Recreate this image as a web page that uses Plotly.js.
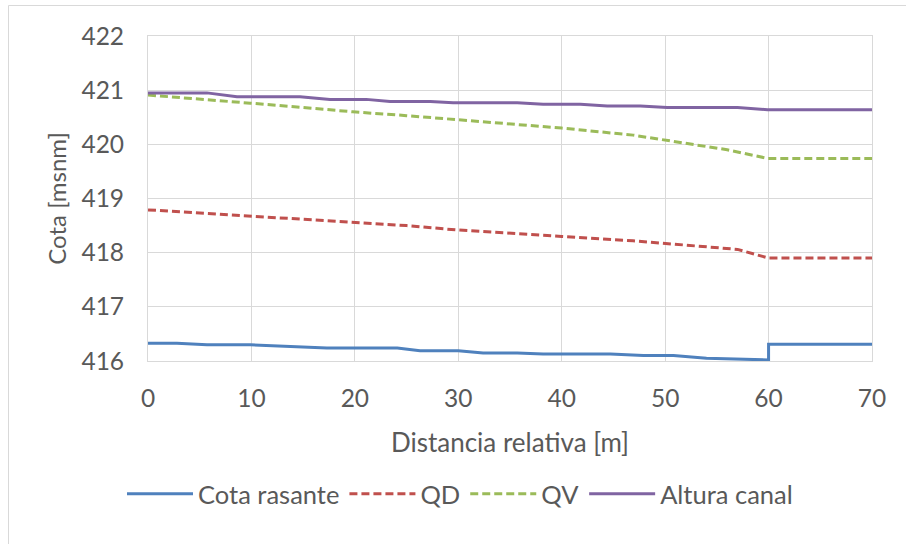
<!DOCTYPE html>
<html>
<head>
<meta charset="utf-8">
<script src="https://cdn.plot.ly/plotly-3.0.1.min.js"></script>
<style>html,body{margin:0;padding:0;background:#fff;}#chart{width:906px;height:544px;}</style>
</head>
<body>
<div id="chart"></div>
<script>
// Cota rasante
var xRasante = [0, 2.8, 5.7, 9.9, 17.3, 24.1, 26.3, 30.0, 32.4, 35.7, 38.2, 44.7, 47.9, 50.8, 54.0, 60.0, 60.0, 70];
var yRasante = [416.33, 416.33, 416.30, 416.30, 416.24, 416.24, 416.19, 416.19, 416.15, 416.15, 416.13, 416.13, 416.10, 416.10, 416.05, 416.02, 416.31, 416.31];
// QD
var xQD = [0, 9.9, 19.9, 25, 29.8, 36, 40, 46.9, 50, 57, 60, 70];
var yQD = [418.79, 418.68, 418.56, 418.50, 418.42, 418.34, 418.30, 418.22, 418.17, 418.06, 417.90, 417.90];
// QV
var xQV = [0, 5, 9.9, 15, 19.8, 25, 29.8, 35.9, 40, 46.9, 50, 56, 59.9, 70];
var yQV = [420.91, 420.84, 420.76, 420.68, 420.60, 420.53, 420.46, 420.37, 420.30, 420.17, 420.08, 419.90, 419.74, 419.74];
// Altura canal
var xCanal = [0, 5.7, 8.6, 14.7, 17.6, 21.1, 23.4, 27.3, 29.5, 35.7, 38.2, 41.8, 44.4, 47.6, 50.2, 57.0, 59.9, 70];
var yCanal = [420.95, 420.95, 420.88, 420.88, 420.83, 420.83, 420.79, 420.79, 420.77, 420.77, 420.74, 420.74, 420.71, 420.71, 420.68, 420.68, 420.64, 420.64];

var seriesNames = ['Cota rasante', 'QD', 'QV', 'Altura canal'];
var xTicks = [0, 10, 20, 30, 40, 50, 60, 70];
var yTicks = [416, 417, 418, 419, 420, 421, 422];

var FONT = 'Lato, "Noto Sans", sans-serif';
var TXT = '#595959';
var GRID = '#d9d9d9';

var traces = [
  {x: xRasante, y: yRasante, name: seriesNames[0], mode: 'lines', line: {color: '#4F81BD', width: 3}},
  {x: xQD, y: yQD, name: seriesNames[1], mode: 'lines', line: {color: '#C0504D', width: 3, dash: '8px,4px'}},
  {x: xQV, y: yQV, name: seriesNames[2], mode: 'lines', line: {color: '#9BBB59', width: 3, dash: '8px,4px'}},
  {x: xCanal, y: yCanal, name: seriesNames[3], mode: 'lines', line: {color: '#8064A2', width: 3}}
];

var layout = {
  width: 906, height: 544,
  margin: {l: 148, r: 34, t: 36, b: 183, pad: 0},
  paper_bgcolor: '#ffffff', plot_bgcolor: '#ffffff',
  font: {family: FONT, color: TXT, size: 24},
  showlegend: true,
  legend: {
    orientation: 'h', x: (122 - 148) / 724, xanchor: 'left', y: -0.41, yanchor: 'middle',
    font: {family: FONT, size: 25.5, color: TXT}, itemwidth: 66, bgcolor: 'rgba(0,0,0,0)'
  },
  xaxis: {
    range: [0, 70], tickvals: xTicks, ticktext: xTicks.map(String),
    showgrid: true, gridcolor: GRID, gridwidth: 1,
    showline: true, linecolor: GRID, linewidth: 1, mirror: true,
    zeroline: false, ticks: '', ticklabelstandoff: 16,
    tickfont: {family: FONT, size: 24.5, color: TXT},
    title: {text: 'Distancia relativa [m]', font: {family: FONT, size: 26, color: TXT}, standoff: 22}
  },
  yaxis: {
    range: [416, 422], tickvals: yTicks, ticktext: yTicks.map(String),
    showgrid: true, gridcolor: GRID, gridwidth: 1,
    showline: true, linecolor: GRID, linewidth: 1, mirror: true,
    zeroline: false, ticks: '', ticklabelstandoff: 18,
    tickfont: {family: FONT, size: 24.5, color: TXT},
    title: {text: 'Cota [msnm]', font: {family: FONT, size: 24, color: TXT}, standoff: 8}
  },
  shapes: [{
    type: 'rect', xref: 'paper', yref: 'paper',
    x0: (8.5 - 148) / 724, x1: 1.2, y0: -0.8, y1: 1 + (36 - 5.5) / 325,
    line: {color: '#d9d9d9', width: 1}, fillcolor: 'rgba(0,0,0,0)', layer: 'below'
  }]
};

Plotly.newPlot('chart', traces, layout, {staticPlot: true, displayModeBar: false});
</script>
</body>
</html>
